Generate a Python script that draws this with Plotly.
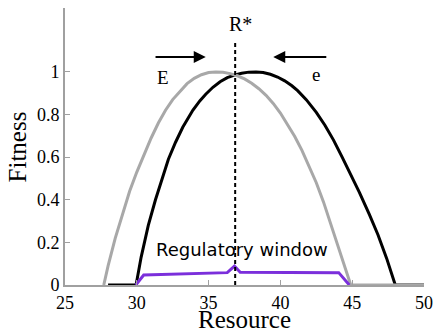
import plotly.graph_objects as go

# Grey curve (E)
E_x = [27.7, 28.0, 28.5, 29.0, 29.5, 30.0, 30.5, 31.0, 31.5, 32.0, 32.5, 33.0, 33.5, 34.0,
       34.5, 35.0, 35.5, 36.0, 36.5, 37.0, 37.5, 38.0, 38.5, 39.0, 39.5, 40.0, 40.5, 41.0,
       41.5, 42.0, 42.5, 43.0, 43.5, 44.0, 44.5, 44.9, 50.0]
E_y = [0.0, 0.09, 0.22, 0.33, 0.44, 0.53, 0.61, 0.69, 0.76, 0.82, 0.87, 0.91, 0.945, 0.97,
       0.987, 0.997, 1.0, 0.998, 0.992, 0.982, 0.967, 0.947, 0.921, 0.89, 0.852, 0.807, 0.755, 0.697,
       0.632, 0.56, 0.48, 0.39, 0.29, 0.19, 0.09, 0.0, 0.0]

# Black curve (e)
e_x = [28.0, 29.95, 30.3, 30.8, 31.3, 31.8, 32.2, 32.7, 33.2, 33.9, 34.4, 34.8, 35.3, 35.8,
       36.3, 36.85, 37.3, 37.8, 38.3, 38.8, 39.3, 39.8, 40.3, 40.8, 41.2, 41.8, 42.5, 43.1,
       43.7, 44.3, 44.9, 45.5, 46.2, 46.8, 47.4, 48.0, 50.0]
e_y = [0.0, 0.0, 0.13, 0.28, 0.40, 0.51, 0.59, 0.67, 0.74, 0.82, 0.865, 0.895, 0.928, 0.954,
       0.973, 0.986, 0.994, 0.999, 1.0, 0.997, 0.989, 0.976, 0.958, 0.935, 0.912, 0.87, 0.81, 0.75,
       0.68, 0.60, 0.52, 0.435, 0.33, 0.235, 0.125, 0.0, 0.0]

# Regulatory window (purple)
W_x = [29.93, 30.48, 36.3, 36.8, 37.2, 44.06, 44.8]
W_y = [0.0, 0.047, 0.058, 0.089, 0.06, 0.058, 0.0]

R_star = 36.85
R_top = 1.15

x_ticks = [25, 30, 35, 40, 45, 50]
y_ticks = [0, 0.2, 0.4, 0.6, 0.8, 1]
y_tick_text = ["0", "0.2", "0.4", "0.6", "0.8", "1"]

GREY = "#a8a8a8"
AXIS = "#a0a0a0"
PURPLE = "#7b2fdb"
SERIF = "Liberation Serif, Times New Roman, serif"

fig = go.Figure()
fig.add_trace(go.Scatter(x=e_x, y=e_y, mode="lines", line=dict(color="black", width=3),
                         hoverinfo="skip"))
fig.add_trace(go.Scatter(x=E_x, y=E_y, mode="lines", line=dict(color=GREY, width=3),
                         hoverinfo="skip"))
fig.add_trace(go.Scatter(x=W_x, y=W_y, mode="lines", line=dict(color=PURPLE, width=3),
                         hoverinfo="skip"))
fig.add_trace(go.Scatter(x=[R_star, R_star], y=[0, R_top], mode="lines",
                         line=dict(color="black", width=2, dash="4px,3px"), hoverinfo="skip"))

annotations = [
    dict(x=34.8, y=1.07, ax=31.2, ay=1.07, xref="x", yref="y", axref="x", ayref="y",
         text="", showarrow=True, arrowhead=2, arrowsize=1.2, arrowwidth=2, arrowcolor="black"),
    dict(x=39.5, y=1.07, ax=43.3, ay=1.07, xref="x", yref="y", axref="x", ayref="y",
         text="", showarrow=True, arrowhead=2, arrowsize=1.2, arrowwidth=2, arrowcolor="black"),
    dict(x=31.85, y=0.975, xref="x", yref="y", text="E", showarrow=False,
         font=dict(family=SERIF, size=19, color="black")),
    dict(x=42.47, y=0.99, xref="x", yref="y", text="e", showarrow=False,
         font=dict(family=SERIF, size=19, color="black")),
    dict(x=37.2, y=1.225, xref="x", yref="y", text="R*", showarrow=False,
         font=dict(family=SERIF, size=20, color="black")),
    dict(x=37.3, y=0.165, xref="x", yref="y", text="Regulatory window", showarrow=False,
         font=dict(family="DejaVu Sans", size=18, color="black")),
    dict(x=0.5, y=-0.124, xref="paper", yref="paper", text="Resource", showarrow=False,
         xanchor="center", yanchor="middle", font=dict(family=SERIF, size=25, color="black")),
    dict(x=-0.131, y=0.5, xref="paper", yref="paper", text="Fitness", showarrow=False,
         xanchor="center", yanchor="middle", textangle=-90,
         font=dict(family=SERIF, size=25, color="black")),
]

fig.update_layout(
    width=441, height=329,
    margin=dict(l=65, r=11, t=8, b=44),
    paper_bgcolor="white", plot_bgcolor="white",
    font=dict(family=SERIF, color="black"),
    showlegend=False,
    annotations=annotations,
    xaxis=dict(range=[25, 50], tickvals=x_ticks, ticks="inside", ticklen=5, tickcolor=AXIS,
               showline=True, linecolor=AXIS, linewidth=2, showgrid=False, zeroline=False,
               tickfont=dict(family=SERIF, size=18, color="black")),
    yaxis=dict(range=[0, 1.3], tickvals=y_ticks, ticktext=y_tick_text, ticks="inside",
               ticklen=5, tickcolor=AXIS, showline=True, linecolor=AXIS, linewidth=2,
               showgrid=False, zeroline=False,
               tickfont=dict(family=SERIF, size=18, color="black")),
)

fig.write_html("out.html")
